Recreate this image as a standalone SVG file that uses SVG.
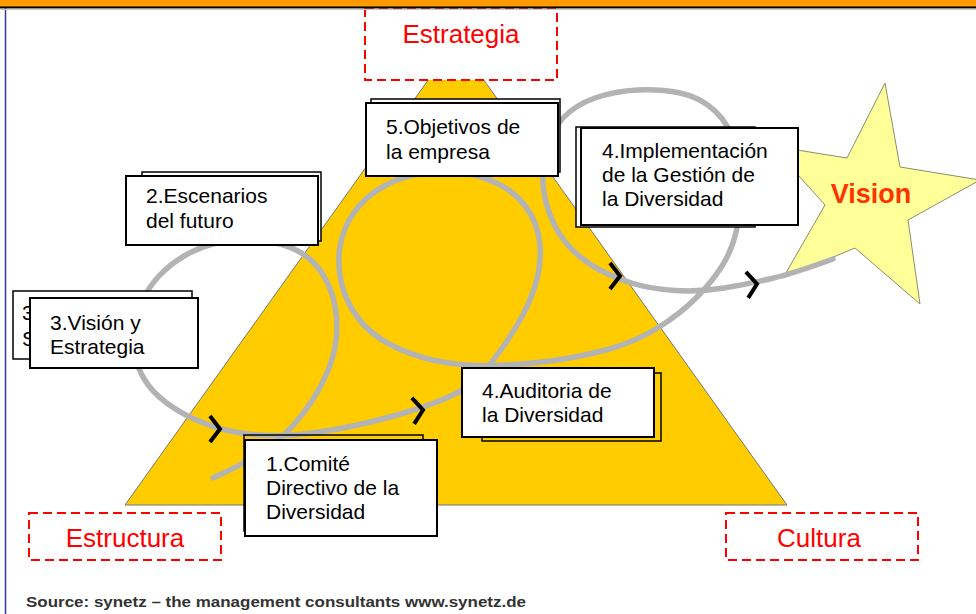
<svg xmlns="http://www.w3.org/2000/svg" xmlns:xlink="http://www.w3.org/1999/xlink" width="976" height="614" viewBox="0 0 976 614">
<style>
.t{font-family:"Liberation Sans",Arial,sans-serif;font-size:21px;fill:#000}
.lbl{font-family:"Liberation Sans",Arial,sans-serif;font-size:26px;fill:#FF0000;text-anchor:middle}
.dash{fill:#fff;stroke:#FF0000;stroke-width:2;stroke-dasharray:9,5}
.front{fill:#fff;stroke:#000;stroke-width:2}
.back{fill:#fff;stroke:#000;stroke-width:1.5}
.backn{fill:none;stroke:#000;stroke-width:1.5}
.loop{fill:none;stroke:#B3B3B3;stroke-width:5.5;stroke-linecap:round;stroke-linejoin:round}
.chev{fill:none;stroke:#000;stroke-width:4}
</style>
<defs>
<path id="chev" class="chev" d="M-10,-13 L0,0 L-10,13"/>
</defs>
<rect x="0" y="0" width="976" height="614" fill="#fff"/>
<line x1="5.5" y1="8" x2="5.5" y2="614" stroke="#333399" stroke-width="1.5"/>

<g id="triangle">
<polygon points="456,41 787,505 125,505" fill="#FFCC00" stroke="#777" stroke-width="1"/>
</g>

<g id="estrategia">
<rect class="dash" x="365" y="9" width="192" height="71"/>
<text class="lbl" x="461" y="43">Estrategia</text>
</g>
<g id="estructura">
<rect class="dash" x="29" y="513" width="192" height="47"/>
<text class="lbl" x="125" y="547">Estructura</text>
</g>
<g id="cultura">
<rect class="dash" x="726" y="513" width="192" height="47"/>
<text class="lbl" x="819" y="547">Cultura</text>
</g>

<g id="vision">
<polygon points="885,83 900,167 980,180 908,220 920,304 855,248 783,278 825,205 772,146 847,158" fill="#FFFF99" stroke="#8C8C6E" stroke-width="1"/>
<text x="871" y="203" font-family="'Liberation Sans',Arial,sans-serif" font-size="27" font-weight="bold" fill="#FF3300" text-anchor="middle">Vision</text>
</g>

<g id="connectors">
<path class="loop" d="M213,478 Q250,461 266.5,449 Q283,437 294,424.5 Q305,412 313.5,398.5 Q322,385 328,370.5 Q334,356 336,340.5 Q338,325 335.5,309 Q333,293 325.5,279 Q318,265 306.5,256.5 Q295,248 280,244 Q265,240 247.5,240 Q230,240 215,243.5 Q200,247 185,255.5 Q170,264 159,276 Q148,288 142,301.5 Q136,315 134,328.5 Q132,342 134.5,354.5 Q137,367 144.5,379.5 Q152,392 166,402.5 Q180,413 197.5,420.5 Q215,428 232.5,431.5 Q250,435 270,435.5 Q290,436 312.5,433 Q335,430 357.5,425 Q380,420 399,414.5 Q418,409 434,403 Q450,397 462.5,390 Q475,383 483.5,372.5 Q492,362 502.5,347.5 Q513,333 522.5,315.5 Q532,298 537,279 Q542,260 539.5,241 Q537,222 526,207 Q515,192 497.5,183.5 Q480,175 460,172.5 Q440,170 420,173.5 Q400,177 382.5,187 Q365,197 354,212.5 Q343,228 340,246.5 Q337,265 341.5,283.5 Q346,302 358,318 Q370,334 390,344.5 Q410,355 435,360.5 Q460,366 490,365.5 Q520,365 550,361 Q580,357 607.5,349.5 Q635,342 657.5,328 Q680,314 696,298 Q712,282 722,266 Q732,250 736,232.5 Q740,215 741,192.5 Q742,170 736,147.5 Q730,125 715,111 Q700,97 680,93 Q660,89 637.5,90 Q615,91 595,98 Q575,105 562.5,118.5 Q550,132 545.5,153.5 Q541,175 544,192.5 Q547,210 554.5,225 Q562,240 573.5,251 Q585,262 599,269.5 Q613,277 631.5,283 Q650,289 675,290.5 Q700,292 724,288 Q748,284 771.5,278.5 Q795,273 833,259"/>
<use xlink:href="#chev" transform="translate(220,429)"/>
<use xlink:href="#chev" transform="translate(423,410) rotate(-5)"/>
<use xlink:href="#chev" transform="translate(620,276)"/>
<use xlink:href="#chev" transform="translate(757,284) rotate(-5)"/>
</g>

<g id="n5">
<rect class="back" x="371" y="99" width="189" height="73"/>
<rect class="front" x="366" y="103" width="192" height="73"/>
<text class="t" x="386" y="134">5.Objetivos de</text>
<text class="t" x="386" y="159">la empresa</text>
</g>
<g id="n2">
<rect class="back" x="142" y="172" width="179" height="69"/>
<rect class="front" x="126" y="176" width="192" height="69"/>
<text class="t" x="146" y="203">2.Escenarios</text>
<text class="t" x="146" y="228">del futuro</text>
</g>
<g id="n3">
<rect class="back" x="13" y="291" width="179" height="68"/>
<text class="t" x="22" y="320">3</text>
<text class="t" x="22" y="346">S</text>
<rect class="front" x="30" y="298" width="168" height="70"/>
<text class="t" x="50" y="330">3.Visión y</text>
<text class="t" x="50" y="354">Estrategia</text>
</g>
<g id="n4i">
<rect class="back" x="576" y="127" width="179" height="100"/>
<rect class="front" x="581" y="128" width="217" height="97"/>
<text class="t" x="602" y="158">4.Implementación</text>
<text class="t" x="602" y="182">de la Gestión de</text>
<text class="t" x="602" y="206">la Diversidad</text>
</g>
<g id="n4a">
<rect class="backn" x="482" y="373" width="179" height="68"/>
<rect class="front" x="462" y="368" width="192" height="69"/>
<text class="t" x="482" y="398">4.Auditoria de</text>
<text class="t" x="482" y="422">la Diversidad</text>
</g>
<g id="n1">
<rect class="backn" x="244" y="435" width="179" height="96"/>
<rect class="front" x="245" y="440" width="192" height="96"/>
<text class="t" x="266" y="471">1.Comité</text>
<text class="t" x="266" y="495">Directivo de la</text>
<text class="t" x="266" y="519">Diversidad</text>
</g>

<g id="topbar">
<rect x="0" y="0" width="976" height="7" fill="#FF9900"/>
<line x1="0" y1="7.5" x2="976" y2="7.5" stroke="#000" stroke-width="1.8"/>
<line x1="0" y1="9.3" x2="976" y2="9.3" stroke="#C8C8C8" stroke-width="1.2"/>
</g>

<text x="26" y="607" font-family="'Liberation Sans',Arial,sans-serif" font-size="15" font-weight="bold" fill="#333" textLength="500" lengthAdjust="spacingAndGlyphs">Source: synetz – the management consultants www.synetz.de</text>
</svg>
